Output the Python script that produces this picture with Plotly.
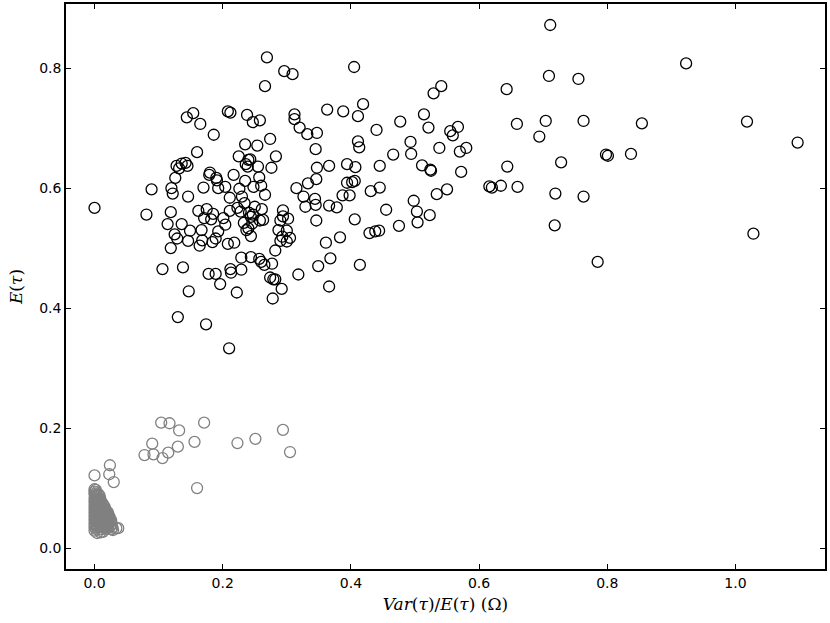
import plotly.graph_objects as go

# black circles: main population
black_x = [0.269, 0.296, 0.309, 0.266, 0.144, 0.154, 0.165, 0.186, 0.208, 0.212,
           0.238, 0.247, 0.258, 0.312, 0.312, 0.320, 0.332, 0.347, 0.235, 0.254,
           0.274, 0.345, 0.160, 0.225, 0.283, 0.243, 0.240, 0.236, 0.239, 0.255,
           0.276, 0.347, 0.128, 0.136, 0.142, 0.145, 0.132, 0.126, 0.180, 0.179,
           0.190, 0.191, 0.217, 0.235, 0.257, 0.333, 0.346, 0.089, 0.120, 0.122,
           0.146, 0.170, 0.193, 0.204, 0.226, 0.248, 0.260, 0.266, 0.315, 0.326,
           0.344, 0.211, 0.230, 0.000, 0.329, 0.345, 0.346, 0.349, 0.081, 0.119,
           0.114, 0.136, 0.125, 0.129, 0.149, 0.146, 0.119, 0.162, 0.175, 0.185,
           0.171, 0.182, 0.167, 0.168, 0.164, 0.184, 0.189, 0.193, 0.201, 0.204,
           0.211, 0.223, 0.234, 0.228, 0.241, 0.244, 0.247, 0.250, 0.261, 0.233,
           0.246, 0.258, 0.263, 0.237, 0.240, 0.244, 0.208, 0.218, 0.294, 0.294,
           0.290, 0.302, 0.287, 0.300, 0.293, 0.290, 0.305, 0.300, 0.282, 0.229,
           0.244, 0.257, 0.260, 0.265, 0.277, 0.106, 0.138, 0.178, 0.189, 0.212,
           0.213, 0.229, 0.196, 0.147, 0.222, 0.274, 0.279, 0.282, 0.292, 0.318,
           0.278, 0.130, 0.174, 0.210, 0.711, 0.405, 0.541, 0.529, 0.643, 0.709,
           0.363, 0.388, 0.419, 0.411, 0.477, 0.514, 0.521, 0.440, 0.411, 0.413,
           0.493, 0.494, 0.466, 0.538, 0.555, 0.559, 0.567, 0.570, 0.580, 0.659,
           0.704, 0.694, 0.366, 0.394, 0.407, 0.445, 0.511, 0.524, 0.525, 0.572,
           0.644, 0.728, 0.394, 0.402, 0.406, 0.431, 0.445, 0.387, 0.398, 0.498,
           0.534, 0.550, 0.616, 0.620, 0.634, 0.660, 0.719, 0.366, 0.378, 0.406,
           0.455, 0.503, 0.504, 0.523, 0.475, 0.429, 0.438, 0.444, 0.718, 0.361,
           0.383, 0.368, 0.414, 0.366, 0.923, 0.755, 0.763, 0.854, 1.018, 1.097,
           0.798, 0.801, 0.837, 0.763, 1.028, 0.785]
black_y = [0.818, 0.795, 0.790, 0.770, 0.718, 0.725, 0.707, 0.689, 0.728, 0.726,
           0.722, 0.710, 0.713, 0.723, 0.715, 0.701, 0.690, 0.692, 0.673, 0.671,
           0.682, 0.665, 0.660, 0.653, 0.653, 0.648, 0.647, 0.640, 0.636, 0.636,
           0.634, 0.634, 0.637, 0.641, 0.642, 0.637, 0.633, 0.617, 0.626, 0.622,
           0.617, 0.613, 0.622, 0.612, 0.618, 0.608, 0.615, 0.598, 0.600, 0.591,
           0.586, 0.601, 0.600, 0.602, 0.599, 0.602, 0.604, 0.589, 0.600, 0.586,
           0.582, 0.584, 0.586, 0.567, 0.569, 0.572, 0.546, 0.470, 0.556, 0.560,
           0.540, 0.540, 0.523, 0.516, 0.529, 0.512, 0.500, 0.562, 0.565, 0.557,
           0.550, 0.548, 0.530, 0.513, 0.504, 0.510, 0.516, 0.528, 0.550, 0.539,
           0.562, 0.567, 0.575, 0.561, 0.559, 0.552, 0.556, 0.569, 0.565, 0.542,
           0.541, 0.546, 0.547, 0.530, 0.533, 0.520, 0.507, 0.509, 0.563, 0.553,
           0.546, 0.549, 0.530, 0.529, 0.519, 0.512, 0.517, 0.511, 0.496, 0.484,
           0.485, 0.482, 0.477, 0.472, 0.474, 0.465, 0.468, 0.457, 0.457, 0.465,
           0.459, 0.464, 0.440, 0.428, 0.426, 0.451, 0.448, 0.448, 0.432, 0.456,
           0.416, 0.385, 0.373, 0.333, 0.872, 0.802, 0.770, 0.758, 0.765, 0.787,
           0.731, 0.728, 0.740, 0.720, 0.711, 0.723, 0.701, 0.697, 0.678, 0.668,
           0.677, 0.657, 0.656, 0.667, 0.695, 0.688, 0.702, 0.661, 0.667, 0.707,
           0.712, 0.686, 0.637, 0.640, 0.635, 0.637, 0.638, 0.631, 0.629, 0.627,
           0.636, 0.643, 0.609, 0.610, 0.612, 0.595, 0.601, 0.588, 0.588, 0.579,
           0.590, 0.598, 0.603, 0.601, 0.604, 0.602, 0.591, 0.571, 0.568, 0.548,
           0.564, 0.561, 0.543, 0.555, 0.537, 0.525, 0.528, 0.529, 0.538, 0.509,
           0.518, 0.483, 0.472, 0.436, 0.808, 0.782, 0.712, 0.708, 0.711, 0.676,
           0.656, 0.654, 0.657, 0.586, 0.524, 0.477]

# grey circles: scattered low points
grey_x = [0.104, 0.117, 0.132, 0.171, 0.090, 0.130, 0.156, 0.078, 0.092, 0.106,
          0.115, 0.223, 0.251, 0.294, 0.305, 0.160, 0.000, 0.024, 0.023, 0.030]
grey_y = [0.209, 0.208, 0.196, 0.209, 0.174, 0.169, 0.177, 0.155, 0.156, 0.150,
          0.159, 0.175, 0.182, 0.197, 0.160, 0.100, 0.121, 0.138, 0.123, 0.110]

# grey circles: dense cluster near the origin
blob_x = [0.000, 0.002, 0.000, 0.003, 0.000, 0.003, 0.006, 0.001, 0.004, 0.008,
          0.000, 0.003, 0.006, 0.009, 0.001, 0.005, 0.009, 0.000, 0.003, 0.007,
          0.011, 0.001, 0.005, 0.009, 0.013, 0.000, 0.003, 0.007, 0.011, 0.014,
          0.001, 0.005, 0.009, 0.013, 0.016, 0.000, 0.003, 0.007, 0.011, 0.015,
          0.017, 0.001, 0.005, 0.009, 0.013, 0.017, 0.019, 0.000, 0.003, 0.007,
          0.011, 0.015, 0.019, 0.021, 0.001, 0.005, 0.009, 0.013, 0.017, 0.021,
          0.000, 0.003, 0.007, 0.011, 0.015, 0.019, 0.023, 0.001, 0.005, 0.009,
          0.013, 0.017, 0.021, 0.024, 0.000, 0.003, 0.007, 0.011, 0.015, 0.019,
          0.023, 0.026, 0.001, 0.005, 0.009, 0.013, 0.017, 0.021, 0.025, 0.000,
          0.003, 0.007, 0.011, 0.015, 0.019, 0.023, 0.027, 0.001, 0.005, 0.009,
          0.013, 0.017, 0.021, 0.025, 0.000, 0.004, 0.008, 0.012, 0.016, 0.020,
          0.024, 0.028, 0.002, 0.010, 0.018, 0.026, 0.034, 0.000, 0.013, 0.029,
          0.037, 0.004, 0.009]
blob_y = [0.098, 0.097, 0.094, 0.093, 0.090, 0.089, 0.090, 0.087, 0.086, 0.087,
          0.083, 0.082, 0.083, 0.082, 0.080, 0.079, 0.080, 0.077, 0.076, 0.077,
          0.076, 0.074, 0.073, 0.074, 0.073, 0.071, 0.070, 0.071, 0.070, 0.071,
          0.068, 0.067, 0.068, 0.067, 0.068, 0.065, 0.064, 0.065, 0.064, 0.065,
          0.064, 0.062, 0.061, 0.062, 0.061, 0.062, 0.061, 0.059, 0.058, 0.059,
          0.058, 0.059, 0.058, 0.059, 0.056, 0.055, 0.056, 0.055, 0.056, 0.055,
          0.053, 0.052, 0.053, 0.052, 0.053, 0.052, 0.053, 0.050, 0.049, 0.050,
          0.049, 0.050, 0.049, 0.050, 0.047, 0.046, 0.047, 0.046, 0.047, 0.046,
          0.047, 0.046, 0.044, 0.043, 0.044, 0.043, 0.044, 0.043, 0.044, 0.041,
          0.040, 0.041, 0.040, 0.041, 0.040, 0.041, 0.040, 0.038, 0.037, 0.038,
          0.037, 0.038, 0.037, 0.038, 0.035, 0.034, 0.035, 0.034, 0.035, 0.034,
          0.035, 0.034, 0.032, 0.031, 0.032, 0.031, 0.033, 0.029, 0.027, 0.030,
          0.033, 0.025, 0.026]

x_ticks = [0.0, 0.2, 0.4, 0.6, 0.8, 1.0]
y_ticks = [0.0, 0.2, 0.4, 0.6, 0.8]

fig = go.Figure()

marker_black = dict(symbol="circle-open", size=11, color="black", line=dict(width=1.3))
marker_grey = dict(symbol="circle-open", size=11, color="#808080", line=dict(width=1.3))

fig.add_trace(go.Scatter(x=black_x, y=black_y, mode="markers", marker=marker_black))
fig.add_trace(go.Scatter(x=grey_x, y=grey_y, mode="markers", marker=marker_grey))
fig.add_trace(go.Scatter(x=blob_x, y=blob_y, mode="markers", marker=marker_grey))

axis_style = dict(
    showgrid=False, zeroline=False,
    showline=True, linecolor="black", linewidth=1.6, mirror="ticks",
    ticks="inside", ticklen=5, tickwidth=1, tickcolor="black",
    tickfont=dict(family="DejaVu Sans", size=14, color="black"),
    tickformat=".1f",
)

fig.update_xaxes(axis_style, range=[-0.0445, 1.1397], tickvals=x_ticks,
                 title=dict(text="<i>Var</i>(<i>τ</i>)/<i>E</i>(<i>τ</i>) (Ω)",
                            font=dict(family="DejaVu Serif", size=17, color="black"),
                            standoff=9))
fig.update_yaxes(axis_style, range=[-0.035, 0.907], tickvals=y_ticks,
                 title=dict(text="<i>E</i>(<i>τ</i>)",
                            font=dict(family="DejaVu Serif", size=17, color="black"),
                            standoff=12))

fig.update_layout(
    width=830, height=623,
    margin=dict(l=66, r=5, t=4, b=54, autoexpand=False),
    paper_bgcolor="white", plot_bgcolor="white",
    showlegend=False,
)

# page has a default body margin; remove it so the figure sits at the window corner
fig.write_html("out.html", config={"displayModeBar": False},
               post_script="document.body.style.margin='0px';")
